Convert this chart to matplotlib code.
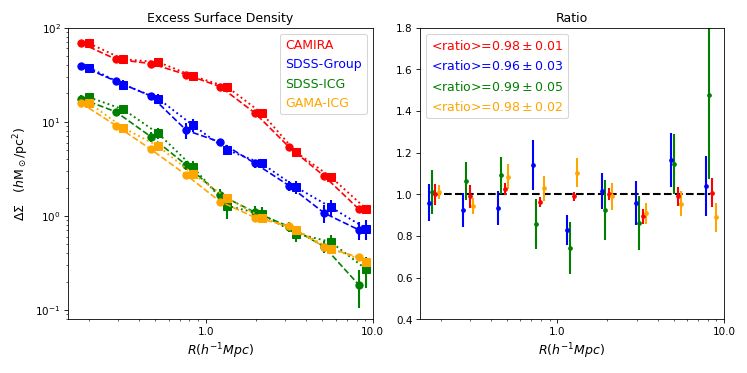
import numpy as np
import matplotlib
matplotlib.use('Agg')
import matplotlib.pyplot as plt
from matplotlib.ticker import FormatStrFormatter, NullFormatter
from matplotlib.lines import Line2D

# radial bins (circles = first measurement, squares = second)
R_circ = [0.18, 0.291, 0.471, 0.767, 1.22, 1.98, 3.16, 5.13, 8.26]
R_sq = [0.2, 0.322, 0.52, 0.837, 1.35, 2.17, 3.47, 5.6, 9.17]

names = ['CAMIRA', 'SDSS-Group', 'SDSS-ICG', 'GAMA-ICG']
colors = ['red', 'blue', 'green', 'orange']

# excess surface density
camira_c = [68, 46, 41.4, 31.6, 23.6, 12.3, 5.37, 2.64, 1.18]
camira_c_err = [2, 1.5, 1.5, 1.2, 0.8, 0.5, 0.25, 0.12, 0.06]
camira_s = [68, 46, 43, 30.6, 23.3, 12.3, 4.75, 2.6, 1.18]
camira_s_err = [2, 1.5, 1.5, 1.2, 0.8, 0.5, 0.25, 0.12, 0.06]

group_c = [39, 26.9, 18.7, 8.1, 6.08, 3.6, 2.09, 1.07, 0.71]
group_c_err = [3, 2.5, 1.5, 1.5, 0.5, 0.35, 0.25, 0.22, 0.15]
group_s = [37.5, 24.8, 17.6, 9.2, 5.0, 3.6, 2.02, 1.24, 0.73]
group_s_err = [3.5, 3, 2, 1.5, 0.6, 0.4, 0.3, 0.25, 0.18]

icg_c = [17.6, 12.7, 6.92, 3.46, 1.67, 1.09, 0.77, 0.47, 0.185]
icg_c_err = [1.5, 1, 0.8, 0.4, 0.25, 0.17, 0.1, 0.07, 0.08]
icg_s = [18.2, 13.5, 7.5, 3.32, 1.28, 1.04, 0.65, 0.53, 0.27]
icg_s_err = [1.8, 1.2, 1, 0.5, 0.35, 0.2, 0.12, 0.1, 0.1]

gama_c = [15.7, 9.1, 5.08, 2.71, 1.42, 0.96, 0.78, 0.47, 0.363]
gama_c_err = [0.6, 0.4, 0.25, 0.15, 0.08, 0.05, 0.04, 0.03, 0.02]
gama_s = [15.9, 8.6, 5.5, 2.8, 1.54, 0.96, 0.71, 0.45, 0.327]
gama_s_err = [0.6, 0.4, 0.25, 0.15, 0.08, 0.05, 0.04, 0.03, 0.02]

# ratios
ratio_camira = [1.0, 0.99, 1.024, 0.963, 0.989, 1.0, 0.893, 0.989, 1.008]
ratio_camira_err = [0.05, 0.055, 0.03, 0.025, 0.02, 0.03, 0.036, 0.045, 0.07]
ratio_group = [0.96, 0.924, 0.933, 1.142, 0.828, 1.016, 0.959, 1.165, 1.038]
ratio_group_err = [0.09, 0.08, 0.08, 0.12, 0.07, 0.087, 0.105, 0.13, 0.145]
ratio_icg = [1.01, 1.064, 1.09, 0.855, 0.742, 0.924, 0.862, 1.145, 1.475]
ratio_icg_err = [0.105, 0.09, 0.09, 0.12, 0.125, 0.145, 0.13, 0.145, 0.4]
ratio_gama = [1.01, 0.944, 1.084, 1.029, 1.103, 0.989, 0.909, 0.955, 0.889]
ratio_gama_err = [0.035, 0.04, 0.06, 0.06, 0.07, 0.065, 0.05, 0.06, 0.07]

ratio_labels = [r'<ratio>=$0.98\pm0.01$', r'<ratio>=$0.96\pm0.03$',
                r'<ratio>=$0.99\pm0.05$', r'<ratio>=$0.98\pm0.02$']
# x shift of each sample in the ratio panel
shift = {'blue': 0.94, 'green': 0.98, 'red': 1.03, 'orange': 1.08}

fig = plt.figure(figsize=(10, 5), dpi=74.7)
ax1 = fig.add_axes([0.091, 0.144, 0.408, 0.781])
ax2 = fig.add_axes([0.562, 0.144, 0.407, 0.781])

circ = [(camira_c, camira_c_err), (group_c, group_c_err), (icg_c, icg_c_err), (gama_c, gama_c_err)]
sq = [(camira_s, camira_s_err), (group_s, group_s_err), (icg_s, icg_s_err), (gama_s, gama_s_err)]

for i in range(4):
    c = colors[i]
    ax1.errorbar(R_circ, circ[i][0], yerr=circ[i][1], fmt='o--', color=c, ms=7, lw=1.6, elinewidth=2)
    ax1.errorbar(R_sq, sq[i][0], yerr=sq[i][1], fmt='s:', color=c, ms=7, lw=1.8, elinewidth=2)

ax1.set_xscale('log')
ax1.set_yscale('log')
ax1.set_xlim(0.15, 10)
ax1.set_ylim(0.08, 100)
ax1.xaxis.set_major_formatter(FormatStrFormatter('%.1f'))
ax1.xaxis.set_minor_formatter(NullFormatter())
ax1.set_title('Excess Surface Density')
ax1.set_xlabel(r'$R(h^{-1}Mpc)$', fontsize=12)
ax1.set_ylabel(r'$\Delta\Sigma\quad(h\mathrm{M}_\odot/\mathrm{pc}^2)$', fontsize=12)

proxies = [Line2D([], [], linestyle='none') for _ in names]
leg = ax1.legend(proxies, names, loc='upper right', handlelength=0, handletextpad=0, fontsize=12)
for t, c in zip(leg.get_texts(), colors):
    t.set_color(c)

ratios = [(ratio_group, ratio_group_err, 'blue'), (ratio_icg, ratio_icg_err, 'green'),
          (ratio_camira, ratio_camira_err, 'red'), (ratio_gama, ratio_gama_err, 'orange')]
ax2.plot(R_circ, np.ones(len(R_circ)), 'k--', lw=2)
for r, e, c in ratios:
    x = np.array(R_circ) * shift[c]
    ax2.errorbar(x, r, yerr=e, fmt='o', color=c, ms=3.5, elinewidth=2)

ax2.set_xscale('log')
ax2.set_xlim(0.15, 10)
ax2.set_ylim(0.4, 1.8)
ax2.xaxis.set_major_formatter(FormatStrFormatter('%.1f'))
ax2.xaxis.set_minor_formatter(NullFormatter())
ax2.set_title('Ratio')
ax2.set_xlabel(r'$R(h^{-1}Mpc)$', fontsize=12)

leg2 = ax2.legend(proxies, ratio_labels, loc='upper left', handlelength=0, handletextpad=0, fontsize=12)
for t, c in zip(leg2.get_texts(), colors):
    t.set_color(c)

plt.savefig('out.png', dpi=74.7)
